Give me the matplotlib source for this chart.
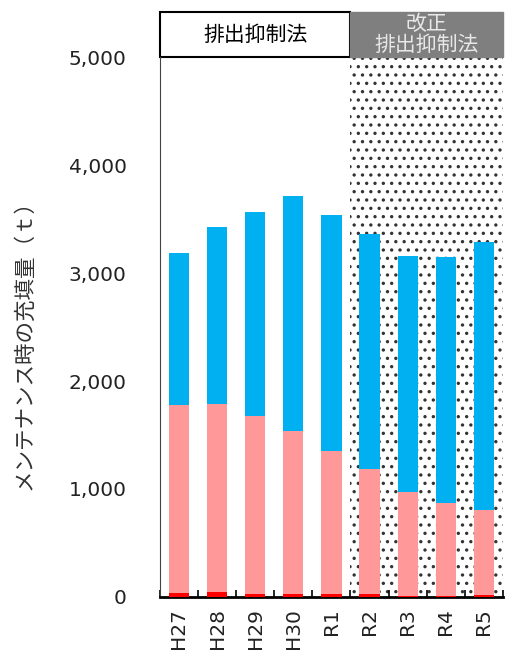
import matplotlib.pyplot as plt
import matplotlib.transforms as mtransforms
from matplotlib.patches import Rectangle
import numpy as np

plt.rcParams['font.family'] = ['Noto Sans CJK JP', 'DejaVu Sans']
plt.rcParams['hatch.linewidth'] = 1.2

years = ['H27', 'H28', 'H29', 'H30', 'R1', 'R2', 'R3', 'R4', 'R5']
# bottom (red), middle (pink), top (blue) – stacked amounts in t
red = [35, 45, 25, 25, 25, 25, 8, 8, 15]
pink_top = [1780, 1785, 1680, 1540, 1355, 1185, 975, 870, 810]
total = [3185, 3430, 3565, 3715, 3540, 3365, 3160, 3150, 3290]

red = np.array(red)
pink = np.array(pink_top) - red
blue = np.array(total) - np.array(pink_top)

fig = plt.figure(figsize=(5.06, 6.6), dpi=100)
ax = fig.add_axes([0.316, 0.0955, 0.678, 0.818])

x = np.arange(len(years))
w = 0.53
ax.bar(x, red, w, color='#FF0000', zorder=3)
ax.bar(x, pink, w, bottom=red, color='#FF9999', zorder=3)
ax.bar(x, blue, w, bottom=red + pink, color='#00B0F0', zorder=3)

# dotted background for the revised-law period
ax.add_patch(Rectangle((4.5, 0), 4.0, 5000, facecolor='white', edgecolor='#333333',
                       hatch='..', linewidth=0, zorder=1))

ax.set_xlim(-0.5, 8.5)
ax.set_ylim(0, 5000)
ax.set_yticks(range(0, 5001, 1000))
ax.set_yticklabels(['{:,}'.format(v) for v in range(0, 5001, 1000)],
                   family='DejaVu Sans', fontsize=14.5, color='#222222')
ax.tick_params(axis='y', length=0, pad=24)
ax.set_xticks(x)
ax.set_xticklabels(years, rotation=90, family='DejaVu Sans', fontsize=14.5, color='#222222')
ax.set_xticks(np.arange(-0.5, 9, 1), minor=True)
ax.tick_params(axis='x', which='major', length=0, pad=8)
ax.tick_params(axis='x', which='minor', direction='in', length=5, width=1.2)

ax.spines['right'].set_visible(False)
ax.spines['top'].set_visible(False)
ax.spines['left'].set_color('#444444')
ax.spines['bottom'].set_linewidth(2)

ax.set_ylabel('メンテナンス時の充填量（ｔ）', fontsize=15.5, color='#333333')
ax.yaxis.set_label_coords(-0.362, 0.477)

# header boxes above the plot
tr = mtransforms.blended_transform_factory(ax.transData, ax.transAxes)
ax.add_patch(Rectangle((-0.5, 1.0), 5.0, 0.083, transform=tr, facecolor='white',
                       edgecolor='black', linewidth=1.5, clip_on=False))
ax.add_patch(Rectangle((4.5, 1.0), 4.0, 0.083, transform=tr, facecolor='#7F7F7F',
                       edgecolor='#7F7F7F', linewidth=1.0, clip_on=False))
ax.text(2.0, 1.0415, '排出抑制法', transform=tr, ha='center', va='center',
        fontsize=15, color='black')
ax.text(6.5, 1.0415, '改正\n排出抑制法', transform=tr, ha='center', va='center',
        fontsize=15, color='#E8E8E8', linespacing=0.95)

fig.savefig('out.png', dpi=100)
